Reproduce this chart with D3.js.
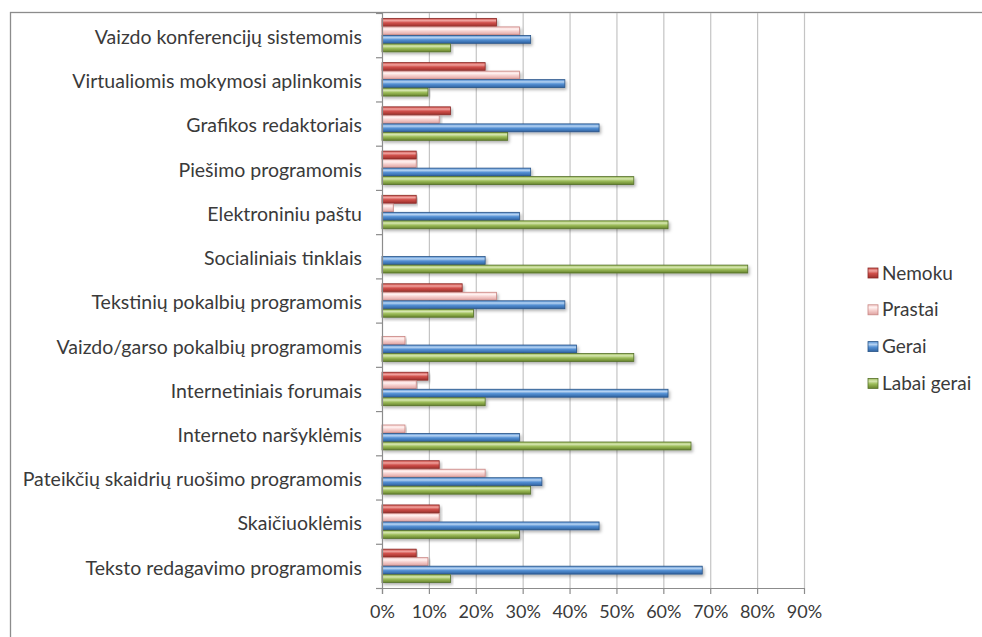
<!DOCTYPE html>
<html>
<head>
<meta charset="utf-8">
<script src="https://cdn.jsdelivr.net/npm/d3@7"></script>
<style>
  html, body { margin: 0; padding: 0; background: #fff; }
  svg { display: block; font-family: Lato, "Open Sans", sans-serif; }
</style>
</head>
<body>
<svg id="chart" width="982" height="637"></svg>
<script>
// Survey categories, listed top to bottom
const categories = [
  "Vaizdo konferencijų sistemomis",
  "Virtualiomis mokymosi aplinkomis",
  "Grafikos redaktoriais",
  "Piešimo programomis",
  "Elektroniniu paštu",
  "Socialiniais tinklais",
  "Tekstinių pokalbių programomis",
  "Vaizdo/garso pokalbių programomis",
  "Internetiniais forumais",
  "Interneto naršyklėmis",
  "Pateikčių skaidrių ruošimo programomis",
  "Skaičiuoklėmis",
  "Teksto redagavimo programomis"
];

// Share of respondents (%) per answer
const nemoku     = [24.4, 22.0, 14.6,  7.3,  7.3,  0.0, 17.1,  0.0,  9.8,  0.0, 12.2, 12.2,  7.3];
const prastai    = [29.3, 29.3, 12.2,  7.3,  2.4,  0.0, 24.4,  4.9,  7.3,  4.9, 22.0, 12.2,  9.8];
const gerai      = [31.7, 39.0, 46.3, 31.7, 29.3, 22.0, 39.0, 41.5, 61.0, 29.3, 34.1, 46.3, 68.3];
const labaiGerai = [14.6,  9.8, 26.8, 53.7, 61.0, 78.0, 19.5, 53.7, 22.0, 65.9, 31.7, 29.3, 14.6];

const seriesNames = ["Nemoku", "Prastai", "Gerai", "Labai gerai"];
const seriesValues = [nemoku, prastai, gerai, labaiGerai];
const xTicks = [0, 10, 20, 30, 40, 50, 60, 70, 80, 90];

// Fill styles: [highlight, body, shade, outline]
const palette = [
  ["#f0a29e", "#d0504b", "#9c2f2b", "#8a2a27"],
  ["#fff1f0", "#f6d0ce", "#dfa3a1", "#c98683"],
  ["#b6d3f2", "#5490d4", "#2f62a0", "#2a5588"],
  ["#d6e6b0", "#9dbd5a", "#66822c", "#55702a"]
];
const textColor = "#3a3a3a";

const svg = d3.select("#chart");
const defs = svg.append("defs");

palette.forEach((c, i) => {
  const g = defs.append("linearGradient")
    .attr("id", "grad" + i).attr("x1", 0).attr("y1", 0).attr("x2", 0).attr("y2", 1);
  g.append("stop").attr("offset", "0%").attr("stop-color", c[1]);
  g.append("stop").attr("offset", "28%").attr("stop-color", c[0]);
  g.append("stop").attr("offset", "55%").attr("stop-color", c[1]);
  g.append("stop").attr("offset", "100%").attr("stop-color", c[2]);
});

const shadow = defs.append("filter").attr("id", "shadow")
  .attr("x", "-5%").attr("y", "-40%").attr("width", "110%").attr("height", "200%");
shadow.append("feDropShadow").attr("dx", 1.5).attr("dy", 2).attr("stdDeviation", 1.4)
  .attr("flood-color", "#000").attr("flood-opacity", 0.3);

// Outer chart frame
svg.append("rect")
  .attr("x", 10.5).attr("y", 12.5).attr("width", 1000).attr("height", 700)
  .attr("fill", "none").attr("stroke", "#8c8c8c").attr("stroke-width", 1.3);

const plot = { left: 382, right: 804, top: 13, bottom: 588 };

const x = d3.scaleLinear().domain([0, 90]).range([plot.left, plot.right]);
const y = d3.scaleBand().domain(categories).range([plot.top, plot.bottom])
  .paddingInner(0.23).paddingOuter(0.115);
const ySub = d3.scaleBand().domain(seriesNames).range([0, y.bandwidth()]);

// Vertical gridlines
svg.append("g").selectAll("line").data(xTicks.slice(1)).join("line")
  .attr("x1", d => x(d) + 0.5).attr("x2", d => x(d) + 0.5)
  .attr("y1", plot.top).attr("y2", plot.bottom)
  .attr("stroke", "#c4c4c4").attr("stroke-width", 1.2);

// Bars
const groups = svg.append("g").selectAll("g").data(categories).join("g")
  .attr("transform", d => `translate(0,${y(d)})`);

groups.each(function(cat, ci) {
  const g = d3.select(this);
  seriesNames.forEach((s, si) => {
    const v = seriesValues[si][ci];
    if (v <= 0) return;
    g.append("rect")
      .attr("x", x(0))
      .attr("y", ySub(s) + 0.3)
      .attr("width", x(v) - x(0))
      .attr("height", ySub.bandwidth() - 0.6)
      .attr("fill", `url(#grad${si})`)
      .attr("stroke", palette[si][3])
      .attr("stroke-width", 0.8)
      .attr("filter", "url(#shadow)");
  });
});

// Bottom axis
const xAxis = d3.axisBottom(x).tickValues(xTicks).tickFormat(d => d + "%")
  .tickSizeInner(6).tickSizeOuter(0).tickPadding(11);
const gx = svg.append("g").attr("transform", `translate(0,${plot.bottom})`).call(xAxis);
gx.select(".domain").attr("stroke", "#8c8c8c").attr("stroke-width", 1.2);
gx.selectAll(".tick line").attr("stroke", "#8c8c8c").attr("stroke-width", 1.2);
gx.selectAll("text").attr("font-size", 18).attr("fill", textColor)
  .attr("font-family", "Lato, 'Open Sans', sans-serif");

// Left axis with category boundary ticks
svg.append("line")
  .attr("x1", plot.left + 0.5).attr("x2", plot.left + 0.5)
  .attr("y1", plot.top).attr("y2", plot.bottom + 6)
  .attr("stroke", "#8c8c8c").attr("stroke-width", 1.2);
const step = y.step();
svg.append("g").selectAll("line").data(d3.range(categories.length + 1)).join("line")
  .attr("x1", plot.left - 6).attr("x2", plot.left)
  .attr("y1", i => plot.top + i * step + 0.5).attr("y2", i => plot.top + i * step + 0.5)
  .attr("stroke", "#8c8c8c").attr("stroke-width", 1.2);

// Category labels
svg.append("g").selectAll("text").data(categories).join("text")
  .attr("x", 362)
  .attr("y", d => y(d) + y.bandwidth() / 2 + 2)
  .attr("dy", "0.35em")
  .attr("text-anchor", "end")
  .attr("font-size", 19.5)
  .attr("fill", textColor)
  .text(d => d);

// Legend
const legend = svg.append("g").selectAll("g").data(seriesNames).join("g")
  .attr("transform", (d, i) => `translate(868,${273 + i * 36.8})`);
legend.append("rect")
  .attr("x", 0).attr("y", -5).attr("width", 10).attr("height", 10)
  .attr("fill", (d, i) => `url(#grad${i})`)
  .attr("stroke", (d, i) => palette[i][3]).attr("stroke-width", 0.8);
legend.append("text")
  .attr("x", 14).attr("y", 0).attr("dy", "0.35em")
  .attr("font-size", 19).attr("fill", textColor)
  .text(d => d);
</script>
</body>
</html>
